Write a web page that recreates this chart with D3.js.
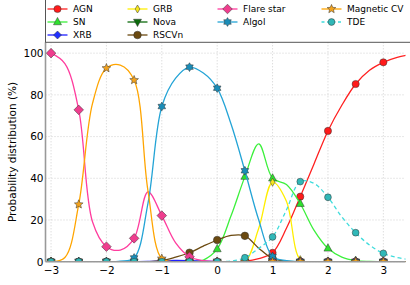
<!DOCTYPE html>
<html>
<head>
<meta charset="utf-8">
<script src="https://cdn.jsdelivr.net/npm/d3@7"></script>
<style>
body { margin: 0; background: #fff; }
text { font-family: "DejaVu Sans", sans-serif; }
</style>
</head>
<body>
<div id="chart"></div>
<script>
// curve samples every 0.25 (markers sit on the 0.5 steps)
const xs = [-3, -2.75, -2.5, -2.25, -2, -1.75, -1.5, -1.25, -1, -0.75, -0.5, -0.25, 0, 0.25, 0.5, 0.75, 1, 1.25, 1.5, 1.75, 2, 2.25, 2.5, 2.75, 3, 3.25, 3.5]

const agn    = [0, 0, 0, 0, 0, 0, 0, 0, 0, 0, 0, 0, 0, 0, 0.2, 1.5, 4.3, 16, 31.2, 47, 62.7, 75, 85.2, 91.8, 95.6, 98, 99.3]
const sn     = [0, 0, 0, 0, 0, 0, 0, 0, 0, 0, 0, 0.8, 6.1, 22, 40.8, 56.5, 40, 37, 27.8, 15, 6.4, 2.2, 0.5, 0.1, 0, 0, 0]
const xrb    = [0, 0, 0, 0, 0, 0, 0, 0.1, 0.4, 0.6, 0.5, 0.3, 0.1, 0, 0, 0, 0, 0, 0, 0, 0, 0, 0, 0, 0, 0, 0]
const grb    = [0, 0, 0, 0, 0, 0, 0, 0, 0, 0, 0, 0, 0, 0, 0, 16, 38.1, 29, 1, 0, 0, 0, 0, 0, 0, 0, 0]
const nova   = [0, 0, 0, 0, 0, 0, 0, 0, 0, 0, 0, 0, 0, 0, 0, 0, 0, 0, 0, 0, 0, 0, 0, 0, 0, 0, 0]
const rscvn  = [0, 0, 0, 0, 0, 0, 0, 0, 0.5, 2.2, 4.3, 7.5, 10.4, 12.6, 12.4, 6.5, 1.5, 0.3, 0, 0, 0, 0, 0, 0, 0, 0, 0]
const flare  = [100, 95, 72.8, 19, 7.2, 5.6, 11.2, 33.5, 22.1, 9, 2.4, 0.5, 0, 0, 0, 0, 0, 0, 0, 0, 0, 0, 0, 0, 0, 0, 0]
const algol  = [0, 0, 0, 0, 0, 0.3, 1.8, 28, 74.4, 88, 93.3, 90.5, 83.2, 66, 43.6, 20, 2.5, 0.5, 0, 0, 0, 0, 0, 0, 0, 0, 0]
const magcv  = [0, 2, 27.5, 76, 92.8, 94.3, 87.1, 34, 1.5, 0, 0, 0, 0, 0, 0, 0, 0, 0, 0, 0, 0, 0, 0, 0, 0, 0, 0]
const tde    = [0, 0, 0, 0, 0, 0, 0, 0, 0, 0, 0, 0, 0, 0.3, 1.9, 6.4, 11.9, 24.8, 38.4, 37.5, 30.9, 21.5, 13.9, 8, 4, 2, 0.9]

const names = ["AGN", "SN", "XRB", "GRB", "Nova", "RSCVn", "Flare star", "Algol", "Magnetic CV", "TDE"]
const values = [agn, sn, xrb, grb, nova, rscvn, flare, algol, magcv, tde]
const xTicks = [-3, -2, -1, 0, 1, 2, 3]
const yTicks = [0, 20, 40, 60, 80, 100]

// styling per series
const styles = [
    {line: "#ff2020", fill: "#ff1a1a", marker: "circle", size: 3.6},
    {line: "#3cf03c", fill: "#2ee02e", marker: "triUp", size: 4.6},
    {line: "#2020ff", fill: "#2030ff", marker: "diamond", size: 4},
    {line: "#ffee00", fill: "#f5e51c", marker: "thinDiamond", size: 4},
    {line: "#0b6a0b", fill: "#0b6a0b", marker: "triDown", size: 4.6},
    {line: "#6b4a10", fill: "#6b4a10", marker: "circle", size: 3.8},
    {line: "#ff3d9e", fill: "#ef3d8e", marker: "diamond", size: 4.8},
    {line: "#24a4d6", fill: "#1a8db8", marker: "star6", size: 4.4},
    {line: "#ffa500", fill: "#f2a21e", marker: "star5", size: 4.6},
    {line: "#40dcdc", fill: "#30b8b8", marker: "circle", size: 3.4, dash: "4,3"}
]

var width = 410, height = 285
var plot = {left: 45.5, right: 405.5, top: 42.3, bottom: 261.7}

var xScale = d3.scaleLinear().domain([-3.1, 3.4]).range([plot.left, plot.right])
var yScale = d3.scaleLinear().domain([0, 105.2]).range([plot.bottom, plot.top])

function markerPath(type, s)
{
    if (type == "circle")
        return "M" + s + ",0A" + s + "," + s + " 0 1 1 " + (-s) + ",0A" + s + "," + s + " 0 1 1 " + s + ",0Z"
    if (type == "diamond")
        return "M0," + (-s) + "L" + s + ",0L0," + s + "L" + (-s) + ",0Z"
    if (type == "thinDiamond")
        return "M0," + (-s) + "L" + (s * 0.6) + ",0L0," + s + "L" + (-s * 0.6) + ",0Z"
    if (type == "triUp")
        return "M0," + (-s) + "L" + (s * 0.87) + "," + (s * 0.6) + "L" + (-s * 0.87) + "," + (s * 0.6) + "Z"
    if (type == "triDown")
        return "M0," + s + "L" + (s * 0.87) + "," + (-s * 0.6) + "L" + (-s * 0.87) + "," + (-s * 0.6) + "Z"
    var n = type == "star6" ? 6 : 5
    var inner = type == "star6" ? 0.6 : 0.45
    var pts = []
    for (var i = 0; i < n * 2; i++) {
        var r = i % 2 == 0 ? s : s * inner
        var a = Math.PI * i / n - Math.PI / 2
        pts.push([r * Math.cos(a), r * Math.sin(a)])
    }
    return "M" + pts.map(p => p[0].toFixed(2) + "," + p[1].toFixed(2)).join("L") + "Z"
}

var svg = d3.select("#chart")
    .append("svg")
    .attr("width", width)
    .attr("height", height)
    .attr("display", "block")

svg.append("defs").append("clipPath")
    .attr("id", "clipPlot")
    .append("rect")
    .attr("x", plot.left)
    .attr("y", plot.top)
    .attr("width", plot.right - plot.left)
    .attr("height", plot.bottom - plot.top)

// grid
var grid = svg.append("g")
grid.selectAll("line.gx")
    .data(xTicks)
    .enter().append("line")
    .attr("x1", d => xScale(d)).attr("x2", d => xScale(d))
    .attr("y1", plot.top).attr("y2", plot.bottom)
    .attr("stroke", "#c4c4c4").attr("stroke-width", 0.8).attr("stroke-dasharray", "1,2")
grid.selectAll("line.gy")
    .data(yTicks)
    .enter().append("line")
    .attr("y1", d => yScale(d)).attr("y2", d => yScale(d))
    .attr("x1", plot.left).attr("x2", plot.right)
    .attr("stroke", "#c4c4c4").attr("stroke-width", 0.8).attr("stroke-dasharray", "1,2")

// series
var plot_g = svg.append("g").attr("clip-path", "url(#clipPlot)")
var line = d3.line()
    .x((d, i) => xScale(xs[i]))
    .y(d => yScale(d))
    .curve(d3.curveCatmullRom.alpha(0.5))

values.forEach(function(vals, k) {
    var st = styles[k]
    plot_g.append("path")
        .datum(vals)
        .attr("d", line)
        .attr("fill", "none")
        .attr("stroke", st.line)
        .attr("stroke-width", 1.3)
        .attr("stroke-dasharray", st.dash || null)
    var pts = vals.map((v, i) => [xs[i], v]).filter(p => p[0] % 0.5 == 0 && p[0] <= 3)
    plot_g.selectAll(null)
        .data(pts)
        .enter().append("path")
        .attr("transform", p => "translate(" + xScale(p[0]) + "," + yScale(p[1]) + ")")
        .attr("d", markerPath(st.marker, st.size))
        .attr("fill", st.fill)
        .attr("stroke", "#333")
        .attr("stroke-width", 0.5)
})

// axes
var xAxis = svg.append("g")
    .attr("transform", "translate(0," + plot.bottom + ")")
    .call(d3.axisBottom(xScale).tickValues(xTicks).tickFormat(d3.format("d")).tickSize(0).tickPadding(5))
xAxis.select(".domain").remove()
xAxis.selectAll("text").attr("font-size", 10.5).attr("fill", "#000").attr("font-family", "DejaVu Sans")

var yAxis = svg.append("g")
    .attr("transform", "translate(" + plot.left + ",0)")
    .call(d3.axisLeft(yScale).tickValues(yTicks).tickSize(0).tickPadding(2))
yAxis.select(".domain").remove()
yAxis.selectAll("text").attr("font-size", 10.5).attr("fill", "#000").attr("font-family", "DejaVu Sans")

svg.append("text")
    .attr("transform", "translate(16," + ((plot.top + plot.bottom) / 2) + ")rotate(-90)")
    .attr("text-anchor", "middle")
    .attr("font-size", 10.5)
    .text("Probability distribution (%)")

// spines
svg.append("line")
    .attr("x1", plot.left).attr("x2", plot.left)
    .attr("y1", plot.top).attr("y2", plot.bottom)
    .attr("stroke", "#999").attr("stroke-width", 1.6)
svg.append("line")
    .attr("x1", plot.left).attr("x2", plot.right)
    .attr("y1", plot.bottom).attr("y2", plot.bottom)
    .attr("stroke", "#999").attr("stroke-width", 1.6)

// legend box above the plot, 4 columns filled top-down (3,3,2,2)
svg.append("rect")
    .attr("x", plot.left)
    .attr("y", -1)
    .attr("width", 380)
    .attr("height", plot.top + 1)
    .attr("fill", "#fff")
    .attr("stroke", "#555")
    .attr("stroke-width", 1)

var legX = [73, 153, 243, 347]
var legY = [9, 22, 35]
var legCol = [0, 0, 0, 1, 1, 1, 2, 2, 3, 3]
var legRow = [0, 1, 2, 0, 1, 2, 0, 1, 0, 1]
var leg = svg.append("g")
names.forEach(function(name, k) {
    var st = styles[k]
    var tx = legX[legCol[k]]
    var ty = legY[legRow[k]]
    var g = leg.append("g").attr("transform", "translate(" + (tx - 25.5) + "," + ty + ")")
    g.append("line")
        .attr("x1", 0).attr("x2", 20)
        .attr("stroke", st.line).attr("stroke-width", 1.3)
        .attr("stroke-dasharray", st.dash ? "3,2.5" : null)
    g.append("path")
        .attr("transform", "translate(10,0)")
        .attr("d", markerPath(st.marker, st.size))
        .attr("fill", st.fill)
        .attr("stroke", "#333")
        .attr("stroke-width", 0.5)
    g.append("text")
        .attr("x", 25.5)
        .attr("dy", "0.35em")
        .attr("font-size", 9)
        .text(name)
})
</script>
</body>
</html>
